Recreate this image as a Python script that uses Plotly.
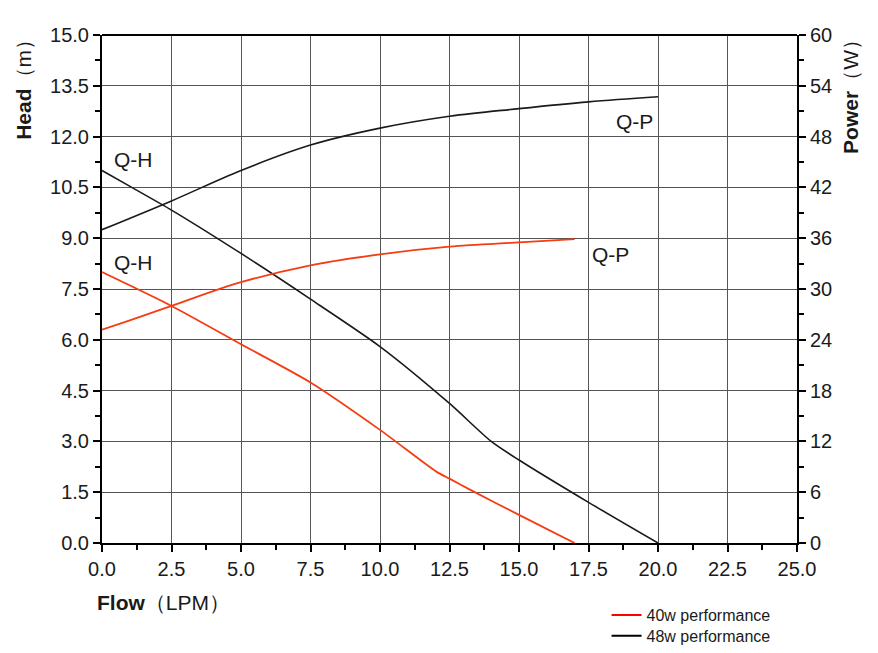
import plotly.graph_objects as go

# Flow (LPM) / Head (m) / Power (W)
flow_qh_48 = [0, 1.07, 2.5, 5.0, 7.5, 10.0, 12.5, 14.0, 15.0, 17.5, 20.0]
head_qh_48 = [11.0, 10.5, 9.83, 8.55, 7.2, 5.80, 4.12, 3.0, 2.45, 1.2, 0.0]

flow_qh_40 = [0, 2.5, 5.0, 7.5, 10.0, 12.04, 12.5, 13.2, 15.0, 17.0]
head_qh_40 = [8.0, 7.0, 5.87, 4.74, 3.34, 2.1, 1.9, 1.59, 0.83, 0.0]

flow_qp_48 = [0, 2.5, 5.0, 7.5, 10.0, 12.5, 15.0, 17.5, 20.0]
power_qp_48 = [37.0, 40.4, 44.0, 47.0, 49.0, 50.4, 51.3, 52.1, 52.7]

flow_qp_40 = [0, 1.0, 2.5, 5.0, 7.5, 10.0, 12.5, 15.0, 17.0]
power_qp_40 = [25.2, 26.3, 28.0, 30.8, 32.8, 34.1, 35.0, 35.5, 35.9]

x_ticks = [i * 2.5 for i in range(11)]
head_ticks = [i * 1.5 for i in range(11)]
power_ticks = [i * 6 for i in range(11)]

legend_names = ["40w performance", "48w performance"]

RED = "#F53C12"
BLACK = "#1a1a1a"
FONT = "Liberation Sans, Arial, sans-serif"
TXT = "#1a1a1a"

fig = go.Figure()
fig.add_trace(go.Scatter(x=flow_qh_48, y=head_qh_48, mode="lines", line=dict(color=BLACK, width=1.6, shape="spline", smoothing=0.7), showlegend=False))
fig.add_trace(go.Scatter(x=flow_qh_40, y=head_qh_40, mode="lines", line=dict(color=RED, width=1.8, shape="spline", smoothing=0.7), showlegend=False))
fig.add_trace(go.Scatter(x=flow_qp_48, y=power_qp_48, mode="lines", yaxis="y2", line=dict(color=BLACK, width=1.6, shape="spline", smoothing=1.0), showlegend=False))
fig.add_trace(go.Scatter(x=flow_qp_40, y=power_qp_40, mode="lines", yaxis="y2", line=dict(color=RED, width=1.8, shape="spline", smoothing=1.0), showlegend=False))
# legend entries
fig.add_trace(go.Scatter(x=[None], y=[None], mode="lines", line=dict(color="#ff0000", width=2), name=legend_names[0], legend="legend"))
fig.add_trace(go.Scatter(x=[None], y=[None], mode="lines", line=dict(color="#000000", width=2), name=legend_names[1], legend="legend2"))

axis_common = dict(
    showline=True, linecolor="#000000", linewidth=2, mirror=False,
    ticks="outside", ticklen=7, tickwidth=2, tickcolor="#000000",
    tickfont=dict(family=FONT, size=20, color=TXT),
    zeroline=False, automargin=False,
)

leg_common = dict(xanchor="left", yanchor="middle", font=dict(family=FONT, size=16, color=TXT),
                  bgcolor="rgba(0,0,0,0)", borderwidth=0, itemwidth=30)

# page body adds an 8px offset, so the figure is sized/margined to compensate
fig.update_layout(
    width=870, height=645,
    margin=dict(l=94, r=81, t=27, b=110, autoexpand=False),
    paper_bgcolor="white", plot_bgcolor="white",
    font=dict(family=FONT, color=TXT),
    xaxis=dict(range=[0, 25], tickvals=x_ticks, ticktext=[f"{v:.1f}" for v in x_ticks],
               showgrid=True, gridcolor="#555555", gridwidth=1,
               minor=dict(dtick=1.25, ticks="outside", ticklen=5, tickwidth=2, tickcolor="#000", showgrid=False),
               **axis_common),
    yaxis=dict(range=[0, 15], tickvals=head_ticks, ticktext=[f"{v:.1f}" for v in head_ticks],
               showgrid=True, gridcolor="#555555", gridwidth=1,
               minor=dict(dtick=0.75, ticks="outside", ticklen=5, tickwidth=2, tickcolor="#000", showgrid=False),
               **axis_common),
    yaxis2=dict(range=[0, 60], tickvals=power_ticks, ticktext=[str(v) for v in power_ticks],
                overlaying="y", side="right", showgrid=False,
                minor=dict(dtick=3, ticks="outside", ticklen=5, tickwidth=2, tickcolor="#000"),
                **axis_common),
    legend=dict(x=0.726, y=-0.142, **leg_common),
    legend2=dict(x=0.726, y=-0.183, **leg_common),
    shapes=[dict(type="line", xref="paper", yref="paper", x0=0, x1=1, y0=1, y1=1,
                 line=dict(color="#000000", width=2))],
)

lab = dict(family=FONT, size=21, color=TXT)
annos = [
    dict(x=-0.113, y=1.016, xref="paper", yref="paper", text="<b>Head</b>（m）", textangle=-90,
         showarrow=False, xanchor="center", yanchor="top", font=dict(family=FONT, size=21, color=TXT)),
    dict(x=1.077, y=1.016, xref="paper", yref="paper", text="<b>Power</b>（W）", textangle=-90,
         showarrow=False, xanchor="center", yanchor="top", font=dict(family=FONT, size=21, color=TXT)),
    dict(x=-0.01, y=-0.118, xref="paper", yref="paper", text="<b>Flow</b>（LPM）",
         showarrow=False, xanchor="left", yanchor="middle", font=dict(family=FONT, size=21, color=TXT)),
    dict(x=0.36, y=11.31, text="Q-H", showarrow=False, xanchor="left", yanchor="middle", font=lab),
    dict(x=0.36, y=8.27, text="Q-H", showarrow=False, xanchor="left", yanchor="middle", font=lab),
    dict(x=18.42, y=12.46, text="Q-P", showarrow=False, xanchor="left", yanchor="middle", font=lab),
    dict(x=17.55, y=8.53, text="Q-P", showarrow=False, xanchor="left", yanchor="middle", font=lab),
]
fig.update_layout(annotations=annos)

fig.write_html("out.html")
